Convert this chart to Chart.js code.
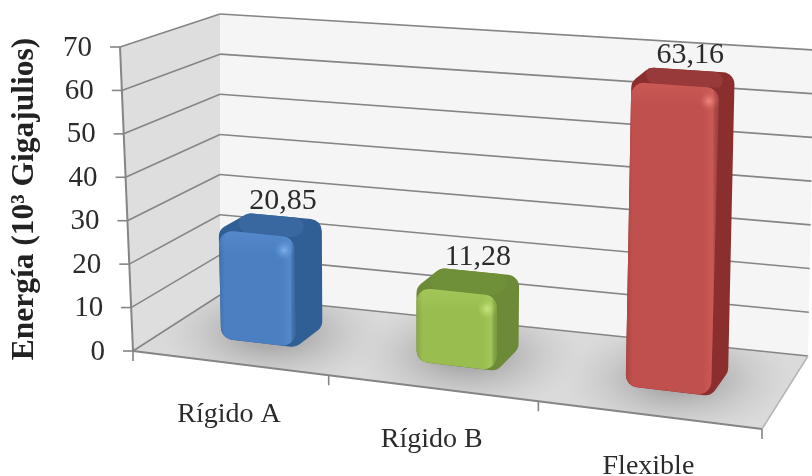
<!DOCTYPE html>
<html>
<head>
<meta charset="utf-8">
<style>
  html, body { margin: 0; padding: 0; background: #fff; overflow: hidden; }
</style>
<script src="https://cdn.jsdelivr.net/npm/chart.js@4/dist/chart.umd.min.js"></script>
</head>
<body>
<canvas id="myChart" width="812" height="476"></canvas>
<script>
const categories = ['Rígido A', 'Rígido B', 'Flexible'];
const energia = [20.85, 11.28, 63.16];
const axisTitle = 'Energía (10³ Gigajulios)';

const barFront = ['#4a7fc1', '#9abd50', '#c0504d'];
const barLight = ['rgba(96,150,215,0.45)', 'rgba(175,210,100,0.45)', 'rgba(214,100,95,0.45)'];
const barClear = ['rgba(96,150,215,0)', 'rgba(175,210,100,0)', 'rgba(214,100,95,0)'];
const barSide = ['#2f5f95', '#6c8a37', '#8a2f2e'];
const barTop = ['#38689f', '#6f8f39', '#98393a'];
const barShine = ['rgba(130,180,235,0.8)', 'rgba(205,232,130,0.8)', 'rgba(238,140,130,0.8)'];

// box corners of the 3d plot: floor x/y, wall height and lean of the verticals
const FL = { x: 133, y: 351, h: 304, lean: -13 };
const FR = { x: 762, y: 429, h: 335, lean: 13 };
const BL = { x: 220, y: 295, h: 281, lean: 0 };
const BR = { x: 808, y: 356, h: 306, lean: 6 };
const depthFront = 0.345, depthBack = 0.685;
const bevelPad = [20, 24, 16.5];
const serif = '"Liberation Serif", serif';
const textColor = '#2b2b2b', gridColor = '#858585';

function mix(a, b, t) { return a + (b - a) * t; }

// u along the front edge, d into the depth, h up the wall (all 0..1)
function project(u, d, h) {
  function corner(k) { return mix(mix(FL[k], FR[k], u), mix(BL[k], BR[k], u), d); }
  return { x: corner('x') + corner('lean') * h, y: corner('y') - corner('h') * h };
}

// category positions squeeze slightly towards the far end
function edgeU(u) { return u - 0.1 * u * (1 - u); }
function barU(u) { return edgeU(u) + 0.002; }

function fillPoly(ctx, pts, color) {
  ctx.beginPath();
  pts.forEach((p, i) => i ? ctx.lineTo(p.x, p.y) : ctx.moveTo(p.x, p.y));
  ctx.closePath();
  ctx.fillStyle = color;
  ctx.fill();
}

function line(ctx, a, b, color, width) {
  ctx.beginPath();
  ctx.moveTo(a.x, a.y);
  ctx.lineTo(b.x, b.y);
  ctx.strokeStyle = color;
  ctx.lineWidth = width;
  ctx.stroke();
}

function roundPoly(ctx, pts, r) {
  const n = pts.length;
  ctx.beginPath();
  ctx.moveTo((pts[n - 1].x + pts[0].x) / 2, (pts[n - 1].y + pts[0].y) / 2);
  pts.forEach((p, i) => {
    const next = pts[(i + 1) % n];
    ctx.arcTo(p.x, p.y, (p.x + next.x) / 2, (p.y + next.y) / 2, r);
  });
  ctx.closePath();
}

function drawWalls(chart) {
  const ctx = chart.ctx, yScale = chart.scales.y, xScale = chart.scales.x;
  const area = chart.chartArea;
  ctx.save();
  const floor = [project(0, 0, 0), project(1, 0, 0), project(1, 1, 0), project(0, 1, 0)];
  fillPoly(ctx, [project(0, 0, 0), project(0, 1, 0), project(0, 1, 1), project(0, 0, 1)], '#dedede');
  fillPoly(ctx, [project(0, 1, 0), project(1, 1, 0), project(1, 1, 1), project(0, 1, 1)], '#f5f5f5');
  fillPoly(ctx, floor, '#dadada');

  // soft shadow round each bar foot
  ctx.save();
  fillPoly(ctx, floor, '#dadada');
  ctx.clip();
  chart.getDatasetMeta(0).data.forEach(el => {
    const u = barU((el.x - area.left) / area.width);
    const c = project(u, 0.52, 0);
    ctx.save();
    ctx.translate(c.x, c.y);
    ctx.scale(1, 0.5);
    const g = ctx.createRadialGradient(0, 0, 30, 0, 0, 115);
    g.addColorStop(0, 'rgba(165,165,165,0.85)');
    g.addColorStop(1, 'rgba(200,200,200,0)');
    ctx.fillStyle = g;
    ctx.fillRect(-120, -120, 240, 240);
    ctx.restore();
  });
  ctx.restore();

  // value grid lines and axis labels
  ctx.textAlign = 'right';
  ctx.textBaseline = 'middle';
  ctx.font = '29px ' + serif;
  yScale.ticks.forEach((tick, i) => {
    const h = (yScale.bottom - yScale.getPixelForTick(i)) / yScale.height;
    const a = project(0, 0, h), b = project(0, 1, h), c = project(1, 1, h);
    line(ctx, a, b, gridColor, 1.6);
    line(ctx, b, c, gridColor, 1.6);
    line(ctx, a, { x: a.x - 10, y: a.y }, gridColor, 1.6);
    ctx.fillStyle = textColor;
    ctx.fillText(String(tick.value), a.x - 28, a.y + 1);
  });
  line(ctx, project(0, 0, 0), project(0, 0, 1), gridColor, 2);
  line(ctx, project(0, 0, 0), project(1, 0, 0), gridColor, 2);
  line(ctx, project(1, 0, 0), project(1, 1, 0), '#b5b5b5', 1.5);

  // category ticks on the front edge
  const step = xScale.width / categories.length;
  for (let i = 0; i <= categories.length; i++) {
    const p = project(edgeU((i * step) / xScale.width), 0, 0);
    line(ctx, p, { x: p.x, y: p.y + 10 }, gridColor, 1.6);
  }
  ctx.textAlign = 'center';
  ctx.font = '28px ' + serif;
  categories.forEach((label, i) => {
    const u = (xScale.getPixelForTick(i) - xScale.left) / xScale.width;
    const p = project(edgeU(u), 0, 0);
    ctx.fillStyle = textColor;
    ctx.fillText(label, p.x, p.y + 52);
  });

  // axis title
  ctx.save();
  ctx.translate(25, 199);
  ctx.rotate(-Math.PI / 2);
  ctx.font = 'bold 31.5px ' + serif;
  ctx.fillStyle = '#222';
  ctx.fillText(axisTitle, 0, 0);
  ctx.restore();
  ctx.restore();
}

function drawBar(chart, el, i) {
  const ctx = chart.ctx, area = chart.chartArea;
  const uL = barU((el.x - el.width / 2 - area.left) / area.width);
  const uR = barU((el.x + el.width / 2 - area.left) / area.width);
  const h = (el.base - el.y + bevelPad[i]) / area.height;

  const A = project(uL, depthFront, 0), B = project(uR, depthFront, 0);
  const C = project(uR, depthFront, h), D = project(uL, depthFront, h);
  const E = project(uR, depthBack, 0), F = project(uR, depthBack, h), G = project(uL, depthBack, h);

  ctx.save();
  // side first, then the top, then the front over both
  roundPoly(ctx, [A, B, E, F, G, D], 12);
  ctx.fillStyle = barSide[i];
  ctx.fill();

  roundPoly(ctx, [D, C, F, G], 9);
  ctx.fillStyle = barTop[i];
  ctx.fill();

  roundPoly(ctx, [A, B, C, D], 13);
  ctx.fillStyle = barFront[i];
  ctx.fill();
  ctx.save();
  ctx.clip();
  const top = Math.min(C.y, D.y) - 5;
  const across = ctx.createLinearGradient(Math.min(A.x, D.x), 0, Math.max(B.x, C.x), 0);
  across.addColorStop(0, 'rgba(0,0,0,0.12)');
  across.addColorStop(0.08, 'rgba(0,0,0,0)');
  across.addColorStop(0.82, barClear[i]);
  across.addColorStop(0.93, barLight[i]);
  across.addColorStop(1, 'rgba(0,0,0,0.15)');
  ctx.fillStyle = across;
  ctx.fillRect(Math.min(A.x, D.x) - 5, top, C.x - D.x + 20, B.y - top + 10);

  const down = ctx.createLinearGradient(0, D.y, 0, D.y + 24);
  down.addColorStop(0, barLight[i]);
  down.addColorStop(1, barClear[i]);
  ctx.fillStyle = down;
  ctx.fillRect(Math.min(A.x, D.x) - 5, top, C.x - D.x + 20, 40);

  const sx = C.x - 10, sy = C.y + 13;
  const shine = ctx.createRadialGradient(sx, sy, 1, sx, sy, 10);
  shine.addColorStop(0, barShine[i]);
  shine.addColorStop(1, barClear[i]);
  ctx.fillStyle = shine;
  ctx.fillRect(sx - 12, sy - 12, 24, 24);
  ctx.restore();
  ctx.restore();
}

function drawValueLabels(chart) {
  const ctx = chart.ctx, area = chart.chartArea;
  ctx.save();
  ctx.font = '30px ' + serif;
  ctx.textAlign = 'center';
  ctx.textBaseline = 'middle';
  ctx.fillStyle = textColor;
  chart.getDatasetMeta(0).data.forEach((el, i) => {
    const uL = barU((el.x - el.width / 2 - area.left) / area.width);
    const uR = barU((el.x + el.width / 2 - area.left) / area.width);
    const h = (el.base - el.y + bevelPad[i]) / area.height;
    const p = project((uL + uR) / 2, depthBack, h);
    ctx.fillText(energia[i].toFixed(2).replace('.', ','), p.x - 2, p.y - 15);
  });
  ctx.restore();
}

const perspective = {
  id: 'perspective',
  beforeDatasetsDraw(chart) { drawWalls(chart); },
  beforeDatasetDraw(chart, args) {
    args.meta.data.forEach((el, i) => drawBar(chart, el, i));
    return false;
  },
  afterDatasetsDraw(chart) { drawValueLabels(chart); }
};

new Chart(document.getElementById('myChart').getContext('2d'), {
  type: 'bar',
  data: {
    labels: categories,
    datasets: [{
      label: 'Energía',
      data: energia,
      backgroundColor: barFront,
      barPercentage: 0.39,
      categoryPercentage: 1
    }]
  },
  options: {
    responsive: false,
    animation: false,
    layout: { padding: { left: 133, right: 50, top: 47, bottom: 125 } },
    plugins: { legend: { display: false }, tooltip: { enabled: false } },
    scales: {
      x: { display: false },
      y: { display: false, min: 0, max: 70, ticks: { stepSize: 10 } }
    }
  },
  plugins: [perspective]
});
</script>
</body>
</html>
